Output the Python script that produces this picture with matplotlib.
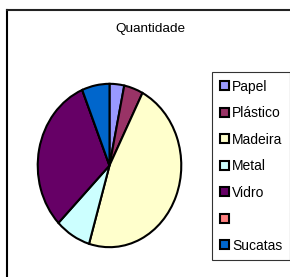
import matplotlib
matplotlib.use('Agg')
import matplotlib.pyplot as plt
from matplotlib.lines import Line2D

plt.rcParams['font.family'] = ['Liberation Sans', 'DejaVu Sans']

# material shares
labels = ['Papel', 'Plástico', 'Madeira', 'Metal', 'Vidro', '', 'Sucatas']
values = [3.3, 4.3, 47.0, 8.0, 31.2, 0.0, 6.2]
colors = ['#9999FF', '#993366', '#FFFFCC', '#CCFFFF', '#660066', '#FF8080', '#0066CC']

W, H = 290, 277
fig = plt.figure(figsize=(W / 100, H / 100), dpi=100)

# chart frame (only top and left edges visible)
fig.add_artist(Line2D([6.5 / W, 6.5 / W], [0, 1 - 9.5 / H], transform=fig.transFigure,
                      color='black', lw=1.5))
fig.add_artist(Line2D([6.5 / W, 1], [1 - 9.5 / H, 1 - 9.5 / H], transform=fig.transFigure,
                      color='#222222', lw=1.5))

fig.text(150 / W, 1 - 29 / H, 'Quantidade', ha='center', va='center', fontsize=9.7)

ax = fig.add_axes([37 / W, 29 / H, 145 / W, 165 / H])
wedges, _ = ax.pie(values, colors=colors, startangle=90, counterclock=False,
                   wedgeprops=dict(edgecolor='black', linewidth=1.5))
ax.set_aspect('auto')
ax.set_xlim(-1.01, 1.01)
ax.set_ylim(-1.01, 1.01)
ax.axis('off')

leg = fig.legend(wedges, labels, loc='upper left',
                 bbox_to_anchor=(212 / W, 1 - 72 / H), fontsize=10,
                 frameon=True, fancybox=False, edgecolor='black',
                 handlelength=0.65, handleheight=0.65, handletextpad=0.25,
                 labelspacing=0.9, borderpad=0.55, borderaxespad=0)
leg.get_frame().set_linewidth(0.8)

fig.savefig('out.png', dpi=100)
